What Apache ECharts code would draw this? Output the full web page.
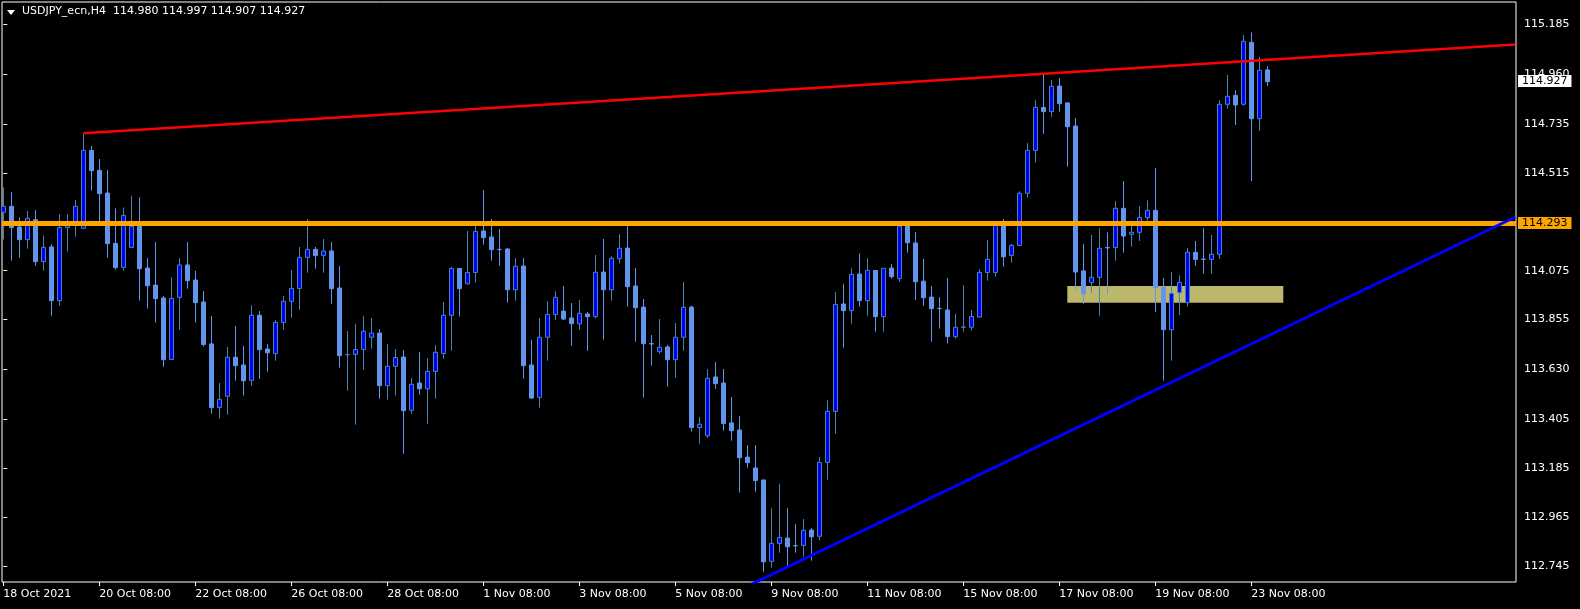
<!DOCTYPE html>
<html>
<head>
<meta charset="utf-8">
<script src="https://cdn.jsdelivr.net/npm/echarts@6/dist/echarts.min.js"></script>
<style>
html,body{margin:0;padding:0;background:#000;}
#chart{width:1580px;height:609px;}
</style>
</head>
<body>
<div id="chart"></div>
<script>
// ---- data (H4 bars, index 0 = 18 Oct 2021 08:00) ----
const barOpen = [114.338,114.365,114.272,114.215,114.305,114.116,114.182,113.940,114.270,114.288,
114.266,114.617,114.527,114.425,114.198,114.090,114.180,114.275,114.087,114.010,
113.952,113.675,113.955,114.101,114.033,113.934,113.745,113.459,113.509,113.685,
113.650,113.581,113.874,113.722,113.702,113.841,113.937,113.995,114.135,114.171,
114.143,114.164,113.997,113.696,113.698,113.720,113.775,113.794,113.557,113.644,
113.686,113.446,113.569,113.543,113.621,113.702,113.874,114.085,114.016,114.067,
114.254,114.227,114.171,114.173,113.989,114.096,113.650,113.504,113.775,113.877,
113.893,113.862,113.836,113.880,113.868,114.069,113.989,114.129,114.177,114.006,
113.911,113.746,113.710,113.731,113.674,113.775,113.911,113.368,113.331,113.596,
113.569,113.389,113.357,113.235,113.186,113.132,112.765,112.846,112.870,112.836,
112.837,112.906,112.878,113.211,113.441,113.925,113.895,114.060,113.940,114.076,
113.868,114.087,114.039,114.276,114.200,114.028,113.956,113.905,113.898,113.778,
113.820,113.820,113.866,114.067,114.067,114.287,114.144,114.189,114.424,114.617,
114.811,114.792,114.907,114.831,114.727,114.074,114.021,114.045,114.179,114.179,
114.356,114.239,114.248,114.314,114.347,114.001,113.809,113.976,113.931,114.158,
114.127,114.126,114.149,114.825,114.865,114.825,115.104,114.760,114.980];
const barHigh = [114.451,114.430,114.315,114.344,114.348,114.234,114.195,114.330,114.330,114.394,
114.691,114.637,114.578,114.529,114.356,114.360,114.412,114.406,114.132,114.204,
113.961,114.046,114.132,114.204,114.074,113.983,113.871,113.569,113.731,113.826,
113.736,113.920,113.893,113.744,113.853,113.961,114.078,114.182,114.308,114.182,
114.218,114.204,114.096,113.803,113.835,113.871,113.862,113.812,113.744,113.722,
113.717,113.591,113.708,113.681,113.740,113.934,114.092,114.085,114.254,114.288,
114.438,114.308,114.263,114.176,114.132,114.132,113.763,113.862,113.938,113.983,
114.006,113.929,113.943,113.889,114.146,114.218,114.141,114.240,114.276,114.087,
113.947,113.785,113.857,113.740,113.839,114.024,113.917,113.416,113.632,113.663,
113.632,113.506,113.420,113.289,113.289,113.132,113.005,113.114,113.005,112.933,
112.956,112.915,113.235,113.491,113.979,114.016,114.086,114.153,114.131,114.076,
114.086,114.105,114.284,114.282,114.249,114.128,114.006,113.956,114.042,113.880,
114.010,113.898,114.082,114.213,114.300,114.308,114.195,114.433,114.650,114.844,
114.957,114.934,114.943,114.835,114.763,114.195,114.236,114.266,114.248,114.389,
114.479,114.276,114.365,114.392,114.538,114.042,114.069,114.054,114.177,114.209,
114.266,114.236,114.844,114.957,114.889,115.137,115.149,115.038,114.997];
const barLow = [114.216,114.120,114.134,114.174,114.098,114.075,113.872,113.917,114.161,114.228,
114.264,114.436,114.296,114.134,114.080,114.075,114.180,113.940,113.904,113.841,
113.642,113.675,113.809,113.994,113.841,113.733,113.431,113.408,113.426,113.579,
113.512,113.557,113.587,113.620,113.669,113.809,113.863,113.899,114.066,114.084,
114.066,113.926,113.638,113.534,113.381,113.629,113.723,113.498,113.494,113.512,
113.250,113.430,113.516,113.385,113.498,113.678,113.714,113.868,114.013,114.021,
114.192,114.120,114.098,113.931,113.940,113.588,113.498,113.458,113.669,113.853,
113.853,113.737,113.809,113.714,113.859,113.764,113.940,114.107,113.913,113.755,
113.503,113.647,113.701,113.552,113.593,113.714,113.350,113.295,113.322,113.543,
113.354,113.309,113.075,113.187,113.079,112.718,112.736,112.804,112.744,112.804,
112.786,112.768,112.860,113.133,113.340,113.728,113.836,113.913,113.872,113.800,
113.800,114.039,114.025,114.156,113.943,113.917,113.755,113.814,113.747,113.769,
113.800,113.805,113.863,114.030,114.048,114.093,114.111,114.185,114.404,114.562,
114.692,114.769,114.792,114.544,113.991,113.926,113.976,113.872,113.971,114.120,
114.156,114.183,114.209,114.300,113.889,113.579,113.669,113.875,113.913,114.098,
114.062,114.062,114.128,114.805,114.732,114.819,114.479,114.705,114.907];
const barClose = [114.365,114.269,114.215,114.311,114.116,114.180,113.940,114.270,114.285,114.365,
114.617,114.526,114.422,114.197,114.089,114.324,114.275,114.084,114.007,113.949,
113.674,113.950,114.101,114.030,113.931,113.742,113.458,113.495,113.685,113.647,
113.579,113.874,113.719,113.705,113.842,113.937,113.995,114.135,114.171,114.143,
114.164,113.994,113.692,113.697,113.720,113.802,113.794,113.557,113.644,113.684,
113.444,113.563,113.543,113.621,113.707,113.874,114.085,113.994,114.067,114.252,
114.224,114.170,114.170,113.989,114.095,113.647,113.501,113.775,113.878,113.955,
113.857,113.836,113.883,113.868,114.068,113.989,114.131,114.176,114.003,113.908,
113.746,113.745,113.730,113.674,113.775,113.910,113.368,113.383,113.590,113.566,
113.386,113.354,113.232,113.210,113.129,112.763,112.846,112.873,112.831,112.835,
112.905,112.876,113.211,113.441,113.923,113.895,114.058,113.940,114.076,113.868,
114.086,114.048,114.276,114.201,114.025,113.953,113.904,113.904,113.778,113.820,
113.821,113.869,114.067,114.126,114.288,114.138,114.189,114.424,114.617,114.811,
114.792,114.906,114.828,114.724,114.069,113.971,114.045,114.176,114.178,114.356,
114.231,114.248,114.315,114.347,113.998,113.809,113.973,114.022,114.158,114.126,
114.126,114.149,114.825,114.861,114.822,115.109,114.760,114.978,114.927];

const xTickIndex = [0,12,24,36,48,60,72,84,96,108,120,132,144,156];
const xTickLabels = ['18 Oct 2021','20 Oct 08:00','22 Oct 08:00','26 Oct 08:00','28 Oct 08:00',
  '1 Nov 08:00','3 Nov 08:00','5 Nov 08:00','9 Nov 08:00','11 Nov 08:00','15 Nov 08:00',
  '17 Nov 08:00','19 Nov 08:00','23 Nov 08:00'];
const yTickValues = [112.745,112.965,113.185,113.405,113.630,113.855,114.075,114.515,114.735,114.960,115.185];

const headerText = 'USDJPY_ecn,H4  114.980 114.997 114.907 114.927';
const supportLevel = 114.293;   // orange horizontal line
const lastPrice = 114.927;      // bid label
const redTrend = [[10,114.694],[189,115.094]];
const blueTrend = [[93,112.653],[189,114.317]];
const zoneBox = [[133,114.006],[160,113.931]];

// ---- chart ----
const rows = barOpen.map((o,i)=>[i,o,barClose[i],barLow[i],barHigh[i]]);
const font = 'DejaVu Sans';
const chart = echarts.init(document.getElementById('chart'), null, {renderer:'canvas'});
chart.setOption({
  backgroundColor:'#000000',
  animation:false,
  grid:{left:2,right:64,top:2,bottom:27,show:true,borderColor:'#ffffff',borderWidth:1,backgroundColor:'transparent'},
  xAxis:{
    type:'value',min:-0.1625,max:189.0875,
    splitLine:{show:false},
    axisLine:{show:false},
    axisTick:{show:true,customValues:xTickIndex,length:4,lineStyle:{color:'#ffffff'}},
    axisLabel:{customValues:xTickIndex,color:'#ffffff',fontFamily:font,fontSize:11,align:'left',margin:7,
      formatter:(v)=>{const i=xTickIndex.indexOf(Math.round(v));return i>=0?xTickLabels[i]:'';}}
  },
  yAxis:{
    type:'value',position:'right',min:112.672,max:115.286,scale:true,
    splitLine:{show:false},
    axisLine:{show:false},
    axisTick:{show:true,customValues:yTickValues,length:4,lineStyle:{color:'#ffffff'}},
    axisLabel:{customValues:yTickValues,color:'#ffffff',fontFamily:font,fontSize:11,margin:8,
      formatter:(v)=>v.toFixed(3)}
  },
  graphic:[
    {type:'polygon',shape:{points:[[7,10],[15,10],[11,15]]},style:{fill:'#ffffff'},z:100},
    {type:'text',left:22,top:6,style:{text:headerText,fill:'#ffffff',font:'11px "DejaVu Sans"'},z:100}
  ],
  series:[
    {
      type:'line',data:[],z:1,silent:true,
      markArea:{silent:true,itemStyle:{color:'#BDB76B',opacity:1},
        data:[[{coord:zoneBox[0]},{coord:zoneBox[1]}]]}
    },
    {
      type:'candlestick',z:3,
      barWidth:5,
      encode:{x:0,y:[1,2,3,4]},
      data:rows,
      itemStyle:{color:'#0000FF',color0:'#6495ED',borderColor:'#4682B4',borderColor0:'#6495ED',borderWidth:1}
    },
    {
      type:'line',z:5,data:[],silent:true,
      markLine:{symbol:'none',silent:true,
        data:[
          {yAxis:supportLevel,lineStyle:{color:'#FFA500',width:5,type:'solid'},
            label:{show:true,position:'end',distance:2,formatter:supportLevel.toFixed(3),color:'#000000',
              backgroundColor:'#FFA500',padding:[1,4,0,4],fontFamily:font,fontSize:11}},
          {yAxis:lastPrice,lineStyle:{color:'rgba(0,0,0,0)',width:0},
            label:{show:true,position:'end',distance:2,formatter:lastPrice.toFixed(3),color:'#000000',
              backgroundColor:'#ffffff',padding:[1,4,0,4],fontFamily:font,fontSize:11}}
        ]}
    },
    {type:'line',z:6,data:redTrend,symbol:'none',silent:true,lineStyle:{color:'#FF0000',width:2.5}},
    {type:'line',z:6,data:blueTrend,symbol:'none',silent:true,lineStyle:{color:'#0000FF',width:3}}
  ]
});
</script>
</body>
</html>
